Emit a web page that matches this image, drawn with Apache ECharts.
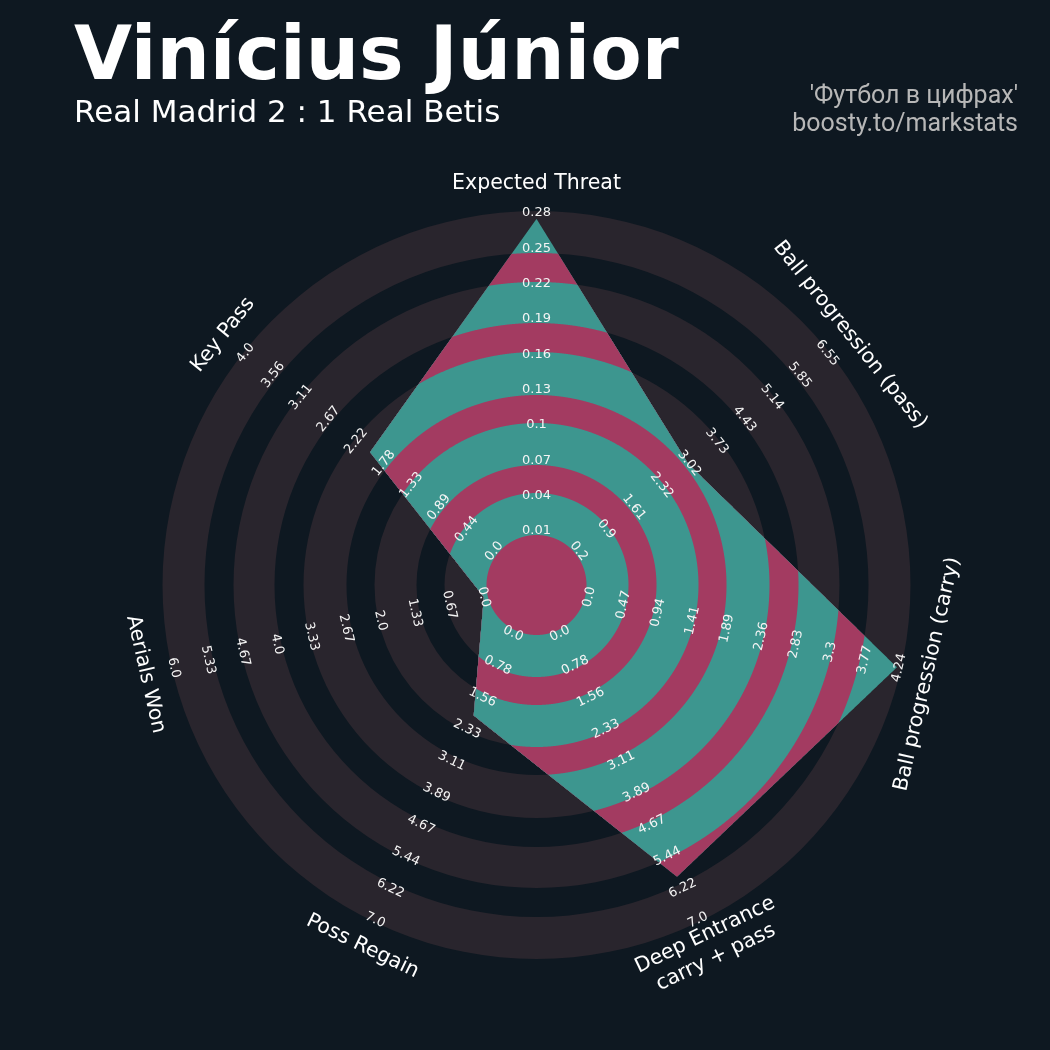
<!DOCTYPE html>
<html><head><meta charset="utf-8">
<script src="https://cdn.jsdelivr.net/npm/echarts@6/dist/echarts.min.js"></script>
<style>html,body{margin:0;padding:0;background:#0E1821;}#c{width:1050px;height:1050px;}</style>
</head><body><div id="c"></div>
<script>
// ---- data ----
const PARAMS = ['Expected Threat', 'Ball progression (pass)', 'Ball progression (carry)', 'Deep Entrance\ncarry + pass', 'Poss Regain', 'Aerials Won', 'Key Pass'];
const MIN_RANGE = [0.01, 0.2, 0.0, 0.0, 0.0, 0.0, 0.0];
const MAX_RANGE = [0.28, 6.55, 4.24, 7.0, 7.0, 6.0, 4.0];
const VALUES = [0.275, 3.0, 4.21, 5.94, 2.0, 0.0, 2.0];
const TICK_LABELS = [
  ['0.01', '0.04', '0.07', '0.1', '0.13', '0.16', '0.19', '0.22', '0.25', '0.28'],
  ['0.2', '0.9', '1.61', '2.32', '3.02', '3.73', '4.43', '5.14', '5.85', '6.55'],
  ['0.0', '0.47', '0.94', '1.41', '1.89', '2.36', '2.83', '3.3', '3.77', '4.24'],
  ['0.0', '0.78', '1.56', '2.33', '3.11', '3.89', '4.67', '5.44', '6.22', '7.0'],
  ['0.0', '0.78', '1.56', '2.33', '3.11', '3.89', '4.67', '5.44', '6.22', '7.0'],
  ['0.0', '0.67', '1.33', '2.0', '2.67', '3.33', '4.0', '4.67', '5.33', '6.0'],
  ['0.0', '0.44', '0.89', '1.33', '1.78', '2.22', '2.67', '3.11', '3.56', '4.0']
];
const TITLE = 'Vinícius Júnior';
const SUBTITLE = 'Real Madrid 2 : 1 Real Betis';
const CREDIT1 = "'Футбол в цифрах'";
const CREDIT2 = 'boosty.to/markstats';

// ---- geometry / style ----
const BG = '#0E1821', GREY = '#29252D', TEAL = '#3D968F', PINK = '#A33B61';
const N = PARAMS.length;
const R_MIN = 54, R_MAX = 372, R_OUT = 374, LABEL_R = 401;
const GREY_BANDS = [[50, 92], [120, 162], [190, 233], [262, 303], [332, 374]];
const CLIP_EDGES = [374, 332, 303, 262, 233, 190, 162, 120, 92, 50];
const CLIP_COLORS = [TEAL, PINK, TEAL, PINK, TEAL, PINK, TEAL, PINK, TEAL, PINK];

function axisAngle(i) { return i * 360 / N; }
function valueRadius(i, v) { return R_MIN + (v - MIN_RANGE[i]) / (MAX_RANGE[i] - MIN_RANGE[i]) * (R_MAX - R_MIN); }
function tickRadius(j, n) { return R_MIN + j / (n - 1) * (R_MAX - R_MIN); }
function cwRot(a) { return (a <= 90 || a >= 270) ? a : a - 180; }
function pxRadius(api, r) { const c = api.coord([0, 0]); const q = api.coord([r, 0]); return Math.hypot(q[0] - c[0], q[1] - c[1]); }

function renderRing(p, api) {
  const b = GREY_BANDS[api.value(0)];
  const c = api.coord([0, 0]);
  return { type: 'ring', shape: { cx: c[0], cy: c[1], r: pxRadius(api, b[1]), r0: pxRadius(api, b[0]) }, style: { fill: GREY } };
}

function renderLayer(p, api) {
  const k = api.value(0);
  const c = api.coord([0, 0]);
  const clip = pxRadius(api, CLIP_EDGES[k]);
  const verts = VALUES.map((v, i) => api.coord([valueRadius(i, v), axisAngle(i)]));
  const pts = [];
  const STEPS = 400;
  for (let i = 0; i < N; i++) {
    const a = verts[i], b = verts[(i + 1) % N];
    for (let s = 0; s < STEPS; s++) {
      const t = s / STEPS;
      let x = a[0] + (b[0] - a[0]) * t, y = a[1] + (b[1] - a[1]) * t;
      const dx = x - c[0], dy = y - c[1], d = Math.hypot(dx, dy);
      if (d > clip) { x = c[0] + dx * clip / d; y = c[1] + dy * clip / d; }
      pts.push([x, y]);
    }
  }
  return { type: 'polygon', shape: { points: pts }, style: { fill: CLIP_COLORS[k] } };
}

function renderTick(p, api) {
  const i = api.value(0), j = api.value(1);
  const ang = axisAngle(i);
  const pt = api.coord([tickRadius(j, TICK_LABELS[i].length), ang]);
  return { type: 'text', x: pt[0], y: pt[1], rotation: -cwRot(ang) * Math.PI / 180,
    style: { text: TICK_LABELS[i][j], fill: '#F4F4F4', fontSize: 13, fontFamily: 'DejaVu Sans', align: 'center', verticalAlign: 'middle' } };
}

function renderParam(p, api) {
  const i = api.value(0);
  const ang = axisAngle(i);
  const c = api.coord([0, 0]);
  const q = api.coord([R_MAX, ang]);
  const f = LABEL_R / R_MAX;
  const x = c[0] + (q[0] - c[0]) * f, y = c[1] + (q[1] - c[1]) * f;
  return { type: 'text', x: x, y: y, rotation: -cwRot(ang) * Math.PI / 180,
    style: { text: PARAMS[i], fill: '#FFFFFF', fontSize: 20.5, lineHeight: 25, fontFamily: 'DejaVu Sans', align: 'center', verticalAlign: 'middle' } };
}

const tickData = [];
TICK_LABELS.forEach((arr, i) => arr.forEach((t, j) => tickData.push([i, j])));

const chart = echarts.init(document.getElementById('c'), null, { renderer: 'canvas' });
chart.setOption({
  backgroundColor: BG,
  animation: false,
  polar: { center: [536.5, 585], radius: R_OUT },
  angleAxis: { type: 'value', min: 0, max: 360, startAngle: 90, clockwise: true,
    axisLine: { show: false }, axisTick: { show: false }, axisLabel: { show: false }, splitLine: { show: false } },
  radiusAxis: { type: 'value', min: 0, max: R_OUT,
    axisLine: { show: false }, axisTick: { show: false }, axisLabel: { show: false }, splitLine: { show: false } },
  graphic: [
    { type: 'text', x: 74, y: 60, style: { text: TITLE, fill: '#FFFFFF', fontSize: 75, fontWeight: 'bold', fontFamily: 'DejaVu Sans', align: 'left', verticalAlign: 'middle' } },
    { type: 'text', x: 74, y: 114, style: { text: SUBTITLE, fill: '#FFFFFF', fontSize: 31, fontFamily: 'DejaVu Sans', align: 'left', verticalAlign: 'middle' } },
    { type: 'text', x: 1018, y: 97, style: { text: CREDIT1, fill: '#B7B7B7', fontSize: 25, fontFamily: 'Roboto', align: 'right', verticalAlign: 'middle' } },
    { type: 'text', x: 1018, y: 125, style: { text: CREDIT2, fill: '#B7B7B7', fontSize: 25, fontFamily: 'Roboto', align: 'right', verticalAlign: 'middle' } }
  ],
  series: [
    { type: 'custom', coordinateSystem: 'polar', z: 1, silent: true, data: GREY_BANDS.map((b, i) => [i, 0]), renderItem: renderRing },
    { type: 'custom', coordinateSystem: 'polar', z: 2, silent: true, data: CLIP_EDGES.map((e, i) => [i, 0]), renderItem: renderLayer },
    { type: 'custom', coordinateSystem: 'polar', z: 3, silent: true, data: tickData, renderItem: renderTick },
    { type: 'custom', coordinateSystem: 'polar', z: 3, silent: true, data: PARAMS.map((p, i) => [i, 0]), renderItem: renderParam }
  ]
});
</script>
</body></html>
